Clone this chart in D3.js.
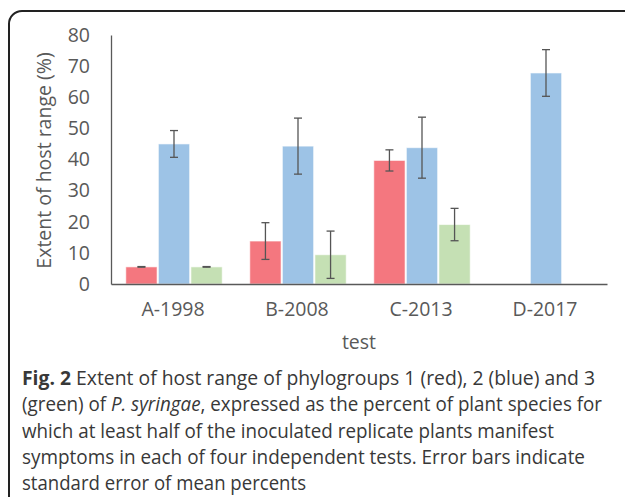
<!DOCTYPE html>
<html lang="en">
<head>
<meta charset="UTF-8">
<title>Extent of host range</title>
<script src="https://d3js.org/d3.v7.min.js"></script>
<style>
  body { margin: 0; background: #fff; }
  svg text { font-family: "Open Sans", sans-serif; }
</style>
</head>
<body>
<div id="chart"></div>
<script>
// data
var tests = ["A-1998", "B-2008", "C-2013", "D-2017"];
var groups = ["1", "2", "3"];
var group1 = [5.5, 13.8, 39.7, null];
var group2 = [45, 44.3, 43.8, 67.8];
var group3 = [5.5, 9.4, 19.1, null];
var err1 = [0.1, 5.9, 3.4, null];
var err2 = [4.3, 9.0, 9.8, 7.5];
var err3 = [0.1, 7.6, 5.2, null];
var yTicks = [0, 10, 20, 30, 40, 50, 60, 70, 80];
var captionLines = [
  [{t: "Fig. 2", b: true}, {t: " Extent of host range of phylogroups 1 (red), 2 (blue) and 3"}],
  [{t: "(green) of "}, {t: "P. syringae", i: true}, {t: ", expressed as the percent of plant species for"}],
  [{t: "which at least half of the inoculated replicate plants manifest"}],
  [{t: "symptoms in each of four independent tests. Error bars indicate"}],
  [{t: "standard error of mean percents"}]
];
// line widths of the printed caption (its font is narrower than ours)
var captionWidths = [573, 580, 532, 563, 284];

var colors = {"1": "#F4777F", "2": "#9DC3E6", "3": "#C5E0B4"};
var vals = {"1": group1, "2": group2, "3": group3};
var errs = {"1": err1, "2": err2, "3": err3};

var W = 625, H = 497;
var svg = d3.select("#chart").append("svg")
    .attr("width", W).attr("height", H);

// rounded frame (cut off at right and bottom)
svg.append("path")
    .attr("d", "M 625 11 L 22 11 A 13 13 0 0 0 9 24 L 9 497")
    .attr("fill", "none")
    .attr("stroke", "#222")
    .attr("stroke-width", 2);

var pLeft = 111, pRight = 607, pTop = 35, pBottom = 284;

var x = d3.scaleBand().domain(tests).range([pLeft, pRight]);
var xSub = d3.scaleBand().domain(groups).range([13.5, 112.5]).padding(0.04);
var y = d3.scaleLinear().domain([0, 80]).range([pBottom, pTop]);

// y axis
var yAxis = svg.append("g")
    .attr("transform", "translate(" + pLeft + ",0)")
    .call(d3.axisLeft(y).tickValues(yTicks).tickSize(0).tickPadding(21));
yAxis.select(".domain").attr("stroke", "#595959").attr("stroke-width", 1.3);
yAxis.selectAll("text").attr("fill", "#595959").style("font-size", "19.5px");

// bars
var rows = [];
tests.forEach(function(t, i) {
  groups.forEach(function(g) {
    if (vals[g][i] != null) rows.push({test: t, g: g, v: vals[g][i], e: errs[g][i]});
  });
});

var bars = svg.append("g").selectAll("g")
    .data(rows).enter().append("g")
    .attr("transform", function(d) { return "translate(" + x(d.test) + ",0)"; });

bars.append("rect")
    .attr("x", function(d) { return xSub(d.g); })
    .attr("y", function(d) { return y(d.v); })
    .attr("width", xSub.bandwidth())
    .attr("height", function(d) { return y(0) - y(d.v); })
    .attr("fill", function(d) { return colors[d.g]; })
    .attr("stroke", "#fff")
    .attr("stroke-opacity", 0.6)
    .attr("stroke-width", 1);

// error bars
var cx = function(d) { return xSub(d.g) + xSub.bandwidth() / 2; };
bars.append("line")
    .attr("x1", cx).attr("x2", cx)
    .attr("y1", function(d) { return y(d.v + d.e); })
    .attr("y2", function(d) { return y(d.v - d.e); })
    .attr("stroke", "#555").attr("stroke-width", 1.3);
[1, -1].forEach(function(s) {
  bars.append("line")
      .attr("x1", function(d) { return cx(d) - 4; })
      .attr("x2", function(d) { return cx(d) + 4; })
      .attr("y1", function(d) { return y(d.v + s * d.e); })
      .attr("y2", function(d) { return y(d.v + s * d.e); })
      .attr("stroke", "#555").attr("stroke-width", 1.3);
});

// x axis
var xAxis = svg.append("g")
    .attr("transform", "translate(0," + pBottom + ")")
    .call(d3.axisBottom(x).tickSize(0).tickPadding(18));
xAxis.select(".domain").attr("stroke", "#595959").attr("stroke-width", 1.5);
xAxis.selectAll("text").attr("fill", "#595959").style("font-size", "19.5px");

// axis titles
svg.append("text")
    .attr("transform", "translate(51," + ((pTop + pBottom) / 2 + 1) + ") rotate(-90)")
    .attr("text-anchor", "middle")
    .attr("fill", "#595959")
    .style("font-size", "19.5px")
    .text("Extent of host range (%)");

svg.append("text")
    .attr("x", (pLeft + pRight) / 2)
    .attr("y", 349)
    .attr("text-anchor", "middle")
    .attr("fill", "#595959")
    .style("font-size", "19.5px")
    .text("test");

// caption
var cap = svg.append("g");
captionLines.forEach(function(line, i) {
  var txt = cap.append("text")
      .attr("x", 22)
      .attr("y", 385 + i * 26.3)
      .attr("fill", "#383838")
      .attr("textLength", captionWidths[i])
      .attr("lengthAdjust", "spacingAndGlyphs")
      .style("font-size", "19.8px");
  line.forEach(function(seg) {
    txt.append("tspan")
        .attr("font-weight", seg.b ? "bold" : null)
        .attr("font-style", seg.i ? "italic" : null)
        .text(seg.t);
  });
});
</script>
</body>
</html>
